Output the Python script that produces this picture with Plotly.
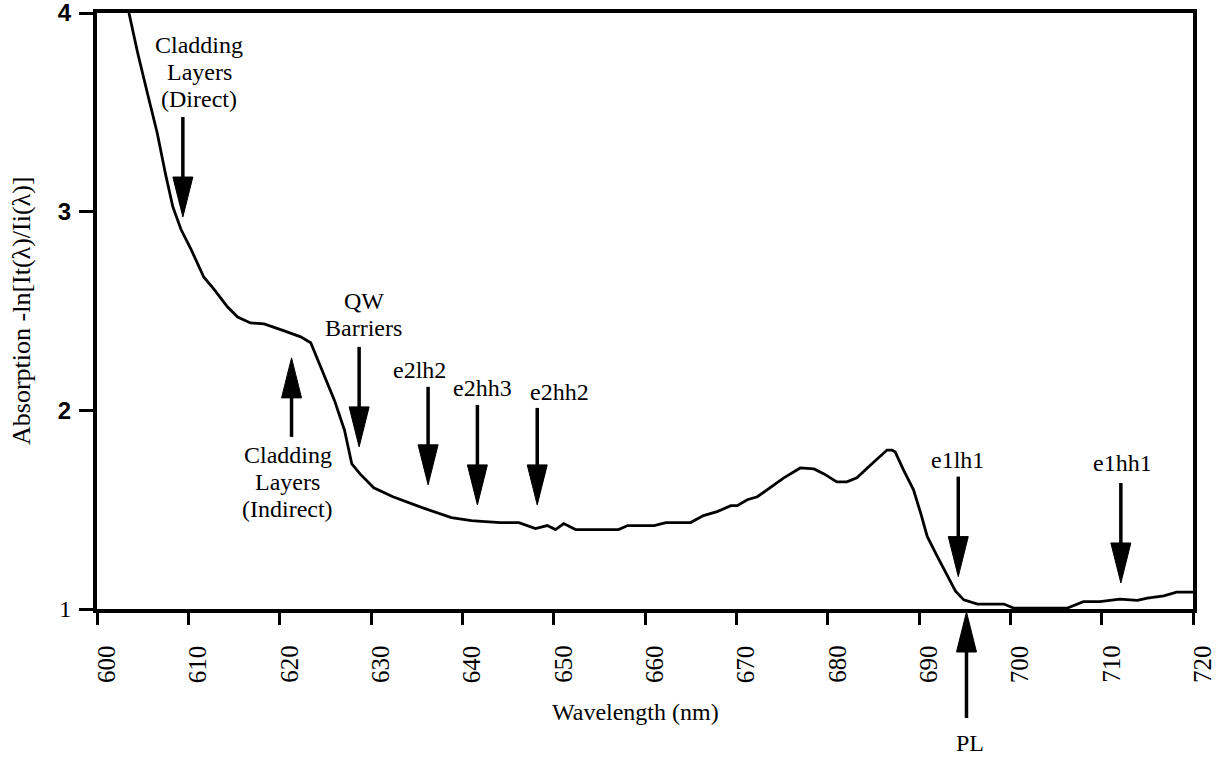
import plotly.graph_objects as go

# Absorption spectrum of the quantum-well sample
wavelength_nm = [
    603.5, 604.45, 605.5, 606.6, 607.5, 608.3, 609.2, 610.3, 611.7, 612.8,
    614.3, 615.4, 616.8, 618.3, 620.5, 622.3, 623.4, 624.5, 626.0, 627.1,
    627.9, 628.8, 630.3, 632.4, 635.6, 638.8, 641.0, 642.5, 644.2, 646.2,
    648.0, 649.3, 650.2, 651.1, 652.4, 657.1, 658.1, 661.0, 662.3, 665.0,
    666.4, 667.9, 669.4, 670.1, 671.2, 672.3, 673.4, 675.2, 677.0, 678.5,
    679.6, 681.0, 682.1, 683.2, 684.7, 686.5, 687.05, 687.4, 688.3, 689.4,
    690.2, 690.9, 692.0, 693.1, 694.0, 694.9, 696.4, 699.3, 700.4, 706.2,
    708.0, 709.8, 712.0, 713.9, 715.0, 716.8, 718.2, 720.0,
]
absorption = [
    4.00, 3.80, 3.60, 3.395, 3.19, 3.025, 2.91, 2.81, 2.67, 2.61,
    2.52, 2.47, 2.44, 2.435, 2.40, 2.37, 2.34, 2.22, 2.05, 1.90,
    1.73, 1.68, 1.61, 1.565, 1.51, 1.46, 1.445, 1.44, 1.435, 1.435,
    1.405, 1.42, 1.40, 1.43, 1.40, 1.40, 1.42, 1.42, 1.435, 1.435,
    1.47, 1.49, 1.52, 1.52, 1.55, 1.565, 1.60, 1.66, 1.71, 1.705,
    1.68, 1.64, 1.64, 1.66, 1.725, 1.80, 1.80, 1.79, 1.70, 1.60,
    1.48, 1.365, 1.265, 1.165, 1.09, 1.046, 1.025, 1.025, 1.004, 1.004,
    1.037, 1.037, 1.05, 1.043, 1.055, 1.066, 1.085, 1.085,
]

x_ticks = list(range(600, 721, 10))
y_ticks = [1, 2, 3, 4]
SANS_BOLD = "<span style=\"font-family:'Liberation Sans', Arial, sans-serif\"><b>{}</b></span>"
y_tick_text = ["1", SANS_BOLD.format(2), SANS_BOLD.format(3), SANS_BOLD.format(4)]

# Transition markers: label lines, label centre (x, y), arrow tip (x, y),
# shaft length in px, arrow direction
markers = [
    (["Cladding", "Layers", "(Direct)"], 611.2, 3.703, 609.4, 2.973, 100, "down"),
    (["Cladding", "Layers", "(Indirect)"], 620.9, 1.64, 621.3, 2.264, 79, "up"),
    (["QW", "Barriers"], 629.2, 2.48, 628.7, 1.816, 100, "down"),
    (["e2lh2"], 635.3, 2.203, 636.25, 1.625, 98, "down"),
    (["e2hh3"], 642.2, 2.113, 641.65, 1.524, 100, "down"),
    (["e2hh2"], 650.6, 2.094, 648.2, 1.524, 97, "down"),
    (["e1lh1"], 694.2, 1.75, 694.3, 1.163, 100, "down"),
    (["e1hh1"], 712.3, 1.734, 712.1, 1.131, 100, "down"),
]
pl_label_x, pl_arrow_x = 695.6, 695.2

SERIF = "'Liberation Serif', 'Times New Roman', Times, serif"
LABEL_SIZE = 24
LINE_GAP = 27
HEAD_W, HEAD_L, SHAFT_W = 10, 40, 3.5

fig = go.Figure()
fig.add_trace(go.Scatter(
    x=wavelength_nm, y=absorption, mode="lines",
    line=dict(color="black", width=2.8), showlegend=False,
    hoverinfo="skip",
))

shapes = []
annotations = []


def add_arrow(x, y, length, direction, yref="y", offset=0):
    s = 1 if direction == "down" else -1
    tip = offset
    base = tip + s * HEAD_L
    shapes.append(dict(
        type="path", xref="x", yref=yref, xsizemode="pixel", ysizemode="pixel",
        xanchor=x, yanchor=y,
        path=f"M {-HEAD_W},{base} L {HEAD_W},{base} L 0,{tip} Z",
        fillcolor="black", line=dict(color="black", width=1),
    ))
    shapes.append(dict(
        type="line", xref="x", yref=yref, xsizemode="pixel", ysizemode="pixel",
        xanchor=x, yanchor=y, x0=0, x1=0, y0=base - s * 2, y1=tip + s * length,
        line=dict(color="black", width=SHAFT_W),
    ))


def label(x, y, txt, yref="y", yshift=0):
    annotations.append(dict(
        x=x, y=y, xref="x", yref=yref, text=txt, showarrow=False,
        xanchor="center", yanchor="middle", yshift=yshift,
        font=dict(family=SERIF, size=LABEL_SIZE, color="black"),
    ))


for lines, lx, ly, ax, ay, length, direction in markers:
    n = len(lines)
    for i, txt in enumerate(lines):
        label(lx, ly, txt, yshift=((n - 1) / 2 - i) * LINE_GAP)
    add_arrow(ax, ay, length, direction)

# PL marker below the axis
add_arrow(pl_arrow_x, 0, 106, "up", yref="paper", offset=-3)
label(pl_label_x, 0, "PL", yref="paper", yshift=-134)

# Rotated wavelength tick labels
for v in x_ticks:
    annotations.append(dict(
        x=v, y=0, xref="x", yref="paper", text=str(v), showarrow=False,
        textangle=-90, xanchor="center", yanchor="top", xshift=9, yshift=-34,
        font=dict(family=SERIF, size=25, color="black"),
    ))

# Axis titles
annotations.append(dict(
    x=659, y=0, xref="x", yref="paper", text="Wavelength (nm)", showarrow=False,
    xanchor="center", yanchor="middle", yshift=-103,
    font=dict(family=SERIF, size=24, color="black"),
))
annotations.append(dict(
    x=0, y=0.5, xref="paper", yref="paper",
    text="Absorption -ln[It(\u03bb)/Ii(\u03bb)]", showarrow=False,
    textangle=-90, xanchor="center", yanchor="middle", xshift=-76,
    font=dict(family=SERIF, size=26, color="black"),
))

fig.update_layout(
    width=1228, height=760,
    margin=dict(l=97, r=35, t=13, b=151, autoexpand=False),
    paper_bgcolor="white", plot_bgcolor="white",
    font=dict(family=SERIF, color="black"),
    shapes=shapes, annotations=annotations,
    xaxis=dict(
        range=[600, 720], tickvals=x_ticks, showticklabels=False,
        ticks="outside", ticklen=12, tickwidth=3, tickcolor="black",
        showline=True, linecolor="black", linewidth=4, mirror=True,
        showgrid=False, zeroline=False, automargin=False,
    ),
    yaxis=dict(
        range=[1, 4], tickvals=y_ticks, ticktext=y_tick_text,
        ticks="outside", ticklen=14, tickwidth=3, tickcolor="black",
        ticklabelstandoff=3, ticklabeloverflow="allow",
        tickfont=dict(family=SERIF, size=24, color="black"),
        showline=True, linecolor="black", linewidth=4, mirror=True,
        showgrid=False, zeroline=False, automargin=False,
    ),
)

fig.write_html("out.html")
